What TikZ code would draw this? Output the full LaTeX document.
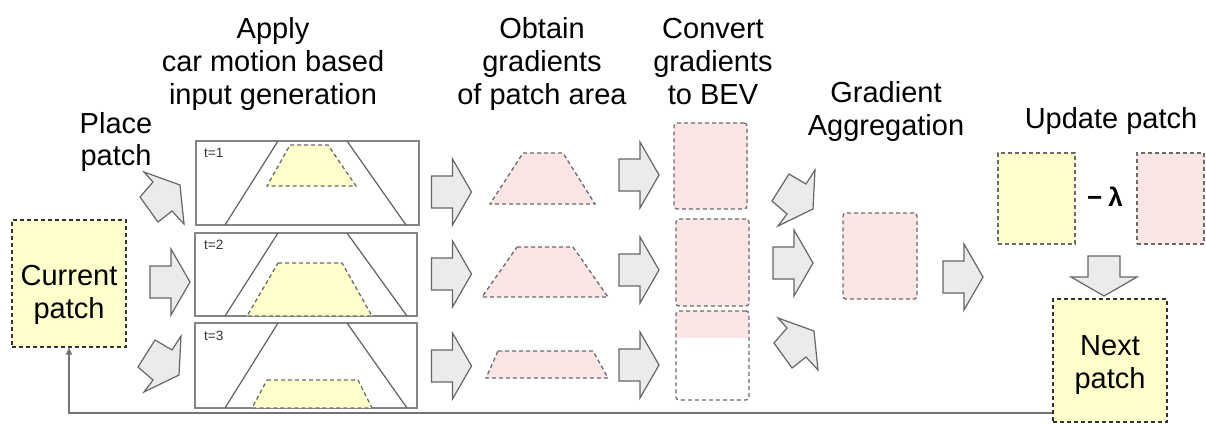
\documentclass[tikz,border=0pt]{standalone}
\usepackage{fontspec}
\setmainfont{Liberation Sans}
\usetikzlibrary{arrows.meta}
\definecolor{pyellow}{HTML}{FFFFCC}
\definecolor{ppink}{HTML}{FBE5E5}
\definecolor{afill}{HTML}{EBEBEB}
\definecolor{aline}{HTML}{666666}
\definecolor{dline}{HTML}{6A6A6A}
\definecolor{fline}{HTML}{858585}
\begin{document}
\begin{tikzpicture}[x=1pt,y=-1pt,
  title/.style={font=\fontsize{29}{33}\selectfont, inner sep=0pt, anchor=base},
  tlab/.style={font=\fontsize{13.5}{14}\selectfont, inner sep=0pt, anchor=base west, text=black!80},
  blkarrow/.style={draw=aline, fill=afill, line width=1.2pt, line join=miter},
  framebox/.style={draw=fline, line width=1.6pt, inner sep=0pt},
  road/.style={draw=black!62, line width=1.2pt},
  dsh/.style={dash pattern=on 4pt off 3pt, line width=1.3pt},
  ytrap/.style={dsh, draw=dline, fill=pyellow},
  ptrap/.style={dsh, draw=dline, fill=ppink},
  pbox/.style={dsh, draw=dline, fill=ppink, rounded corners=3pt, inner sep=0pt},
  ybox/.style={dsh, draw=dline, fill=pyellow, inner sep=0pt},
  pbox2/.style={dsh, draw=black!80, fill=pyellow, inner sep=0pt},
  fb/.style={draw=black!55, line width=1.3pt, -{Triangle[width=6pt,length=7pt]}},
  rarr/.pic={\path[blkarrow] (-20,-16) -- (1,-16) -- (1,-33) -- (20,0) -- (1,33) -- (1,16) -- (-20,16) -- cycle;},
  dnarr/.pic={\path[blkarrow] (-16,-25) -- (20,-12) -- (24,27) -- (12,14) -- (-2,25) -- (-20,0) -- (-7,-15) -- cycle;},
  uparr/.pic={\path[blkarrow] (-5,-25) -- (-22,2) -- (-7,15) -- (-16,27) -- (19,10) -- (21,-29) -- (12,-15) -- cycle;}
]
\useasboundingbox[fill=white] (0,0) rectangle (1206,423);

% titles
\node[title] (ta1) at (273,38) {Apply};
\node[title] (ta2) at (273,71) {car motion based};
\node[title] (ta3) at (273,104) {input generation};
\node[title] (tb1) at (542,38) {Obtain};
\node[title] (tb2) at (542,71) {gradients};
\node[title] (tb3) at (542,104) {of patch area};
\node[title] (tc1) at (713,38) {Convert};
\node[title] (tc2) at (713,71) {gradients};
\node[title] (tc3) at (713,104) {to BEV};
\node[title] (tp1) at (116,133) {Place};
\node[title] (tp2) at (116,165) {patch};
\node[title] (td1) at (886,102) {Gradient};
\node[title] (td2) at (886,135) {Aggregation};
\node[title] (te1) at (1111,128) {Update patch};

% current patch
\node[pbox2, minimum width=114pt, minimum height=127pt] (cur) at (69,283.5) {};
\node[title] (cur1) at (69,285) {Current};
\node[title] (cur2) at (69,318) {patch};

% place arrows
\pic at (160,197) {dnarr};
\pic at (170,282) {rarr};
\pic at (160,365) {uparr};

% input frames
\node[framebox, minimum width=223pt, minimum height=84pt] (f1) at (307.5,183) {};
\node[framebox, minimum width=222pt, minimum height=83pt] (f2) at (306,274.5) {};
\node[framebox, minimum width=222pt, minimum height=85pt] (f3) at (306,365.5) {};
\path[ytrap] (290,145) -- (328,145) -- (356,186) -- (267,186) -- cycle;
\path[ytrap] (278,263) -- (342,263) -- (372,316) -- (247,316) -- cycle;
\path[ytrap] (267,380) -- (358,380) -- (372,408) -- (252,408) -- cycle;
\draw[road] (225,225) -- (278,141) (347,141) -- (406,225);
\draw[road] (225,316) -- (278,233) (347,233) -- (407,316);
\draw[road] (225,408) -- (278,323) (347,323) -- (407,408);
\node[tlab] (t1) at (204,157) {t=1};
\node[tlab] (t2) at (204,249) {t=2};
\node[tlab] (t3) at (204,340) {t=3};

% arrows column A
\pic at (451.5,192) {rarr};
\pic at (451.5,274) {rarr};
\pic at (451.5,366) {rarr};

% gradient trapezoids
\path[ptrap] (523,153) -- (563,153) -- (595,204) -- (490,204) -- cycle;
\path[ptrap] (517,247) -- (573,247) -- (608,297) -- (482,297) -- cycle;
\path[ptrap] (498,351) -- (593,351) -- (608,378) -- (486,378) -- cycle;

% arrows column B
\pic at (639,175) {rarr};
\pic at (639,270) {rarr};
\pic at (639,365) {rarr};

% BEV boxes
\node[pbox, minimum width=73pt, minimum height=86pt] (bev1) at (710.5,166) {};
\node[pbox, minimum width=73pt, minimum height=87pt] (bev2) at (712.5,262.5) {};
\fill[ppink] (676,311) rectangle (749,338);
\node[dsh, draw=dline, rounded corners=3pt, inner sep=0pt, minimum width=73pt, minimum height=89pt] (bev3) at (712.5,355.5) {};

% aggregation arrows
\pic at (794,199) {uparr};
\pic at (793,263) {rarr};
\pic at (794,343) {dnarr};

\node[pbox, minimum width=74pt, minimum height=86pt] (agg) at (880,256) {};
\pic at (963,277) {rarr};

% update
\node[ybox, minimum width=77pt, minimum height=91pt] (upy) at (1036.5,198.5) {};
\node[font=\bfseries\fontsize{26}{28}\selectfont, inner sep=0pt] (lam) at (1105,197) {−\hspace{6pt}λ};
\node[pbox, rounded corners=0pt, minimum width=67pt, minimum height=91pt] (upp) at (1170.5,198.5) {};
\pic[rotate=-90] at (1104,276) {rarr};

% next patch
\node[pbox2, minimum width=114pt, minimum height=123pt] (next) at (1110,360.5) {};
\node[title] (nx1) at (1110,355) {Next};
\node[title] (nx2) at (1110,388) {patch};

% feedback
\coordinate (fbc) at (0,413);
\draw[fb] (next.west |- fbc) -| (cur.south);
\end{tikzpicture}
\end{document}
